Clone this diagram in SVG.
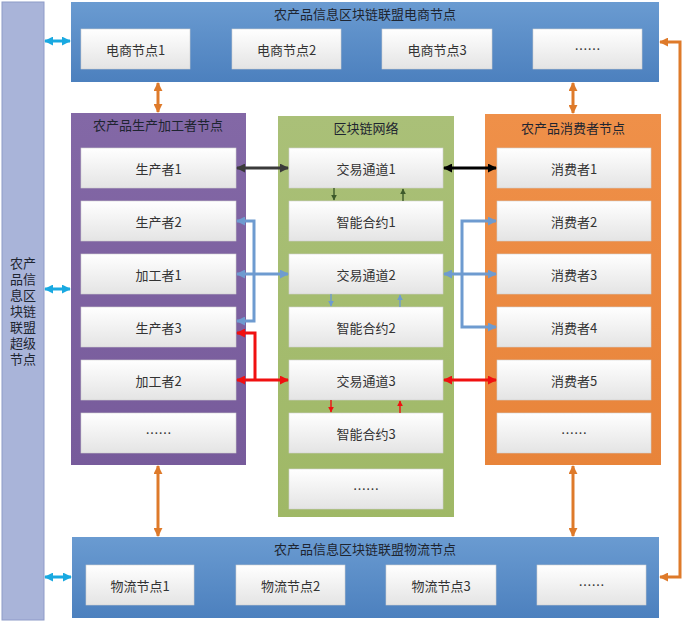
<svg xmlns="http://www.w3.org/2000/svg" width="700" height="624" viewBox="0 0 700 624">
<defs>
<linearGradient id="gBox" x1="0" y1="0" x2="0" y2="1"><stop offset="0" stop-color="#FFFFFF"/><stop offset="1" stop-color="#E4E4E4"/></linearGradient>
<linearGradient id="gBlue" x1="0" y1="0" x2="0" y2="1"><stop offset="0" stop-color="#6A9BD1"/><stop offset="1" stop-color="#4C80BE"/></linearGradient>
<linearGradient id="gPurple" x1="0" y1="0" x2="0" y2="1"><stop offset="0" stop-color="#8368A6"/><stop offset="1" stop-color="#775B9B"/></linearGradient>
<linearGradient id="gGreen" x1="0" y1="0" x2="0" y2="1"><stop offset="0" stop-color="#AAC078"/><stop offset="1" stop-color="#9FB866"/></linearGradient>
<linearGradient id="gOrange" x1="0" y1="0" x2="0" y2="1"><stop offset="0" stop-color="#EF9049"/><stop offset="1" stop-color="#E8843A"/></linearGradient>
<marker id="aCyan" viewBox="0 0 10 10" refX="9" refY="5" markerWidth="9" markerHeight="9" markerUnits="userSpaceOnUse" orient="auto-start-reverse"><path d="M0,0 L10,5 L0,10 z" fill="#19A9E1"/></marker>
<marker id="aOrange" viewBox="0 0 10 10" refX="9" refY="5" markerWidth="9" markerHeight="9" markerUnits="userSpaceOnUse" orient="auto-start-reverse"><path d="M0,0 L10,5 L0,10 z" fill="#DE7A2A"/></marker>
<marker id="aDark" viewBox="0 0 10 10" refX="9" refY="5" markerWidth="9" markerHeight="9" markerUnits="userSpaceOnUse" orient="auto-start-reverse"><path d="M0,0 L10,5 L0,10 z" fill="#3A3A3A"/></marker>
<marker id="aBlack" viewBox="0 0 10 10" refX="9" refY="5" markerWidth="9" markerHeight="9" markerUnits="userSpaceOnUse" orient="auto-start-reverse"><path d="M0,0 L10,5 L0,10 z" fill="#000000"/></marker>
<marker id="aBlue" viewBox="0 0 10 10" refX="9" refY="5" markerWidth="9" markerHeight="9" markerUnits="userSpaceOnUse" orient="auto-start-reverse"><path d="M0,0 L10,5 L0,10 z" fill="#6E9BD0"/></marker>
<marker id="aRed" viewBox="0 0 10 10" refX="9" refY="5" markerWidth="9" markerHeight="9" markerUnits="userSpaceOnUse" orient="auto-start-reverse"><path d="M0,0 L10,5 L0,10 z" fill="#F01010"/></marker>
<marker id="sGreen" viewBox="0 0 10 10" refX="9" refY="5" markerWidth="6" markerHeight="6" markerUnits="userSpaceOnUse" orient="auto"><path d="M0,0 L10,5 L0,10 z" fill="#3D5A2A"/></marker>
<marker id="sBlue" viewBox="0 0 10 10" refX="9" refY="5" markerWidth="6" markerHeight="6" markerUnits="userSpaceOnUse" orient="auto"><path d="M0,0 L10,5 L0,10 z" fill="#6E9BD0"/></marker>
<marker id="sRed" viewBox="0 0 10 10" refX="9" refY="5" markerWidth="6" markerHeight="6" markerUnits="userSpaceOnUse" orient="auto"><path d="M0,0 L10,5 L0,10 z" fill="#F01010"/></marker>
</defs>
<style>
text{font-family:"Noto Sans CJK SC","Liberation Sans",sans-serif;}
.box{fill:url(#gBox);stroke:#CFCFCF;stroke-width:0.6;}
.lbl{font-size:13px;fill:#333333;text-anchor:middle;dominant-baseline:central;}
.ttl{font-size:13px;fill:#1E2530;text-anchor:middle;dominant-baseline:central;}
.vt{font-family:"Liberation Sans","Noto Sans CJK SC",sans-serif;font-size:13px;fill:#1E2530;text-anchor:middle;}
.c{fill:none;stroke-width:3;}
.s{fill:none;stroke-width:1.4;}
</style>
<rect width="700" height="624" fill="#FFFFFF"/>

<g id="super">
<rect x="2" y="2" width="42" height="618" fill="#A9B4D9" stroke="#8E9BC8" stroke-width="1"/>
<text class="vt" x="23" y="268"><tspan x="23">农产</tspan><tspan x="23" dy="16">品信</tspan><tspan x="23" dy="16">息区</tspan><tspan x="23" dy="16">块链</tspan><tspan x="23" dy="16">联盟</tspan><tspan x="23" dy="16">超级</tspan><tspan x="23" dy="16">节点</tspan></text>
</g>

<g id="ecommerce">
<rect x="71" y="2" width="588" height="80" fill="url(#gBlue)"/>
<text class="ttl" x="365" y="13">农产品信息区块链联盟电商节点</text>
</g>
<g id="ec1"><rect class="box" x="81" y="29" width="109" height="40"/><text class="lbl" x="135.5" y="49">电商节点1</text></g>
<g id="ec2"><rect class="box" x="232" y="29" width="109" height="40"/><text class="lbl" x="286.5" y="49">电商节点2</text></g>
<g id="ec3"><rect class="box" x="382" y="29" width="110" height="40"/><text class="lbl" x="437" y="49">电商节点3</text></g>
<g id="ec4"><rect class="box" x="533" y="29" width="109" height="40"/><text class="lbl" x="587.5" y="48">……</text></g>

<g id="producers">
<rect x="71" y="113" width="175" height="352" fill="url(#gPurple)"/>
<text class="ttl" x="158" y="124">农产品生产加工者节点</text>
</g>
<g id="p1"><rect class="box" x="81" y="148" width="155" height="40"/><text class="lbl" x="158.5" y="168">生产者1</text></g>
<g id="p2"><rect class="box" x="81" y="201" width="155" height="40"/><text class="lbl" x="158.5" y="221">生产者2</text></g>
<g id="p3"><rect class="box" x="81" y="254" width="155" height="40"/><text class="lbl" x="158.5" y="274">加工者1</text></g>
<g id="p4"><rect class="box" x="81" y="307" width="155" height="40"/><text class="lbl" x="158.5" y="327">生产者3</text></g>
<g id="p5"><rect class="box" x="81" y="360" width="155" height="40"/><text class="lbl" x="158.5" y="380">加工者2</text></g>
<g id="p6"><rect class="box" x="81" y="413" width="155" height="40"/><text class="lbl" x="158.5" y="432">……</text></g>

<g id="blockchain">
<rect x="278" y="116" width="176" height="401" fill="url(#gGreen)"/>
<text class="ttl" x="366" y="127">区块链网络</text>
</g>
<g id="b1"><rect class="box" x="289" y="148" width="154" height="40"/><text class="lbl" x="366" y="168">交易通道1</text></g>
<g id="b2"><rect class="box" x="289" y="201" width="154" height="40"/><text class="lbl" x="366" y="221">智能合约1</text></g>
<g id="b3"><rect class="box" x="289" y="254" width="154" height="40"/><text class="lbl" x="366" y="274">交易通道2</text></g>
<g id="b4"><rect class="box" x="289" y="307" width="154" height="40"/><text class="lbl" x="366" y="327">智能合约2</text></g>
<g id="b5"><rect class="box" x="289" y="360" width="154" height="40"/><text class="lbl" x="366" y="380">交易通道3</text></g>
<g id="b6"><rect class="box" x="289" y="413" width="154" height="40"/><text class="lbl" x="366" y="433">智能合约3</text></g>
<g id="b7"><rect class="box" x="289" y="469" width="154" height="40"/><text class="lbl" x="366" y="488">……</text></g>

<g id="consumers">
<rect x="485" y="114" width="176" height="351" fill="url(#gOrange)"/>
<text class="ttl" x="573" y="127">农产品消费者节点</text>
</g>
<g id="c1"><rect class="box" x="497" y="148" width="154" height="40"/><text class="lbl" x="574" y="168">消费者1</text></g>
<g id="c2"><rect class="box" x="497" y="201" width="154" height="40"/><text class="lbl" x="574" y="221">消费者2</text></g>
<g id="c3"><rect class="box" x="497" y="254" width="154" height="40"/><text class="lbl" x="574" y="274">消费者3</text></g>
<g id="c4"><rect class="box" x="497" y="307" width="154" height="40"/><text class="lbl" x="574" y="327">消费者4</text></g>
<g id="c5"><rect class="box" x="497" y="360" width="154" height="40"/><text class="lbl" x="574" y="380">消费者5</text></g>
<g id="c6"><rect class="box" x="497" y="413" width="154" height="40"/><text class="lbl" x="574" y="432">……</text></g>

<g id="logistics">
<rect x="72" y="537" width="587" height="81" fill="url(#gBlue)"/>
<text class="ttl" x="365" y="548">农产品信息区块链联盟物流节点</text>
</g>
<g id="l1"><rect class="box" x="86" y="565" width="108" height="40"/><text class="lbl" x="140" y="585">物流节点1</text></g>
<g id="l2"><rect class="box" x="236" y="565" width="109" height="40"/><text class="lbl" x="290.5" y="585">物流节点2</text></g>
<g id="l3"><rect class="box" x="386" y="565" width="110" height="40"/><text class="lbl" x="441" y="585">物流节点3</text></g>
<g id="l4"><rect class="box" x="537" y="565" width="109" height="40"/><text class="lbl" x="591.5" y="584">……</text></g>

<g id="connectors">
<path class="c" stroke="#19A9E1" d="M45,41 H70" marker-start="url(#aCyan)" marker-end="url(#aCyan)"/>
<path class="c" stroke="#19A9E1" d="M45,289 H70" marker-start="url(#aCyan)" marker-end="url(#aCyan)"/>
<path class="c" stroke="#19A9E1" d="M45,577 H71" marker-start="url(#aCyan)" marker-end="url(#aCyan)"/>

<path class="c" stroke="#DE7A2A" d="M158,83 V112" marker-start="url(#aOrange)" marker-end="url(#aOrange)"/>
<path class="c" stroke="#DE7A2A" d="M573,83 V113" marker-start="url(#aOrange)" marker-end="url(#aOrange)"/>
<path class="c" stroke="#DE7A2A" d="M158,466 V536" marker-start="url(#aOrange)" marker-end="url(#aOrange)"/>
<path class="c" stroke="#DE7A2A" d="M573,466 V536" marker-start="url(#aOrange)" marker-end="url(#aOrange)"/>
<path class="c" stroke="#DE7A2A" d="M660,42 H680 V577 H660" marker-start="url(#aOrange)" marker-end="url(#aOrange)"/>

<path class="c" stroke="#3A3A3A" d="M237,168 H288" marker-start="url(#aDark)" marker-end="url(#aDark)"/>
<path class="c" stroke="#000000" d="M444,168 H496" marker-start="url(#aBlack)" marker-end="url(#aBlack)"/>
<path class="s" stroke="#3D5A2A" d="M334,188 V200" marker-end="url(#sGreen)"/>
<path class="s" stroke="#3D5A2A" d="M403,201 V189" marker-end="url(#sGreen)"/>

<path class="c" stroke="#6E9BD0" d="M237,221 H254 V321 H237" marker-start="url(#aBlue)" marker-end="url(#aBlue)"/>
<path class="c" stroke="#6E9BD0" d="M237,274 H288" marker-start="url(#aBlue)" marker-end="url(#aBlue)"/>
<path class="c" stroke="#6E9BD0" d="M496,221 H462 V327 H496" marker-start="url(#aBlue)" marker-end="url(#aBlue)"/>
<path class="c" stroke="#6E9BD0" d="M444,274 H496" marker-start="url(#aBlue)" marker-end="url(#aBlue)"/>
<path class="s" stroke="#6E9BD0" d="M331,294 V306" marker-end="url(#sBlue)"/>
<path class="s" stroke="#6E9BD0" d="M400,307 V295" marker-end="url(#sBlue)"/>

<path class="c" stroke="#F01010" d="M237,333 H255 V380" marker-start="url(#aRed)"/>
<path class="c" stroke="#F01010" d="M237,380 H288" marker-start="url(#aRed)" marker-end="url(#aRed)"/>
<path class="c" stroke="#F01010" d="M444,380 H496" marker-start="url(#aRed)" marker-end="url(#aRed)"/>
<path class="s" stroke="#F01010" d="M331,400 V412" marker-end="url(#sRed)"/>
<path class="s" stroke="#F01010" d="M400,413 V401" marker-end="url(#sRed)"/>
</g>
</svg>
